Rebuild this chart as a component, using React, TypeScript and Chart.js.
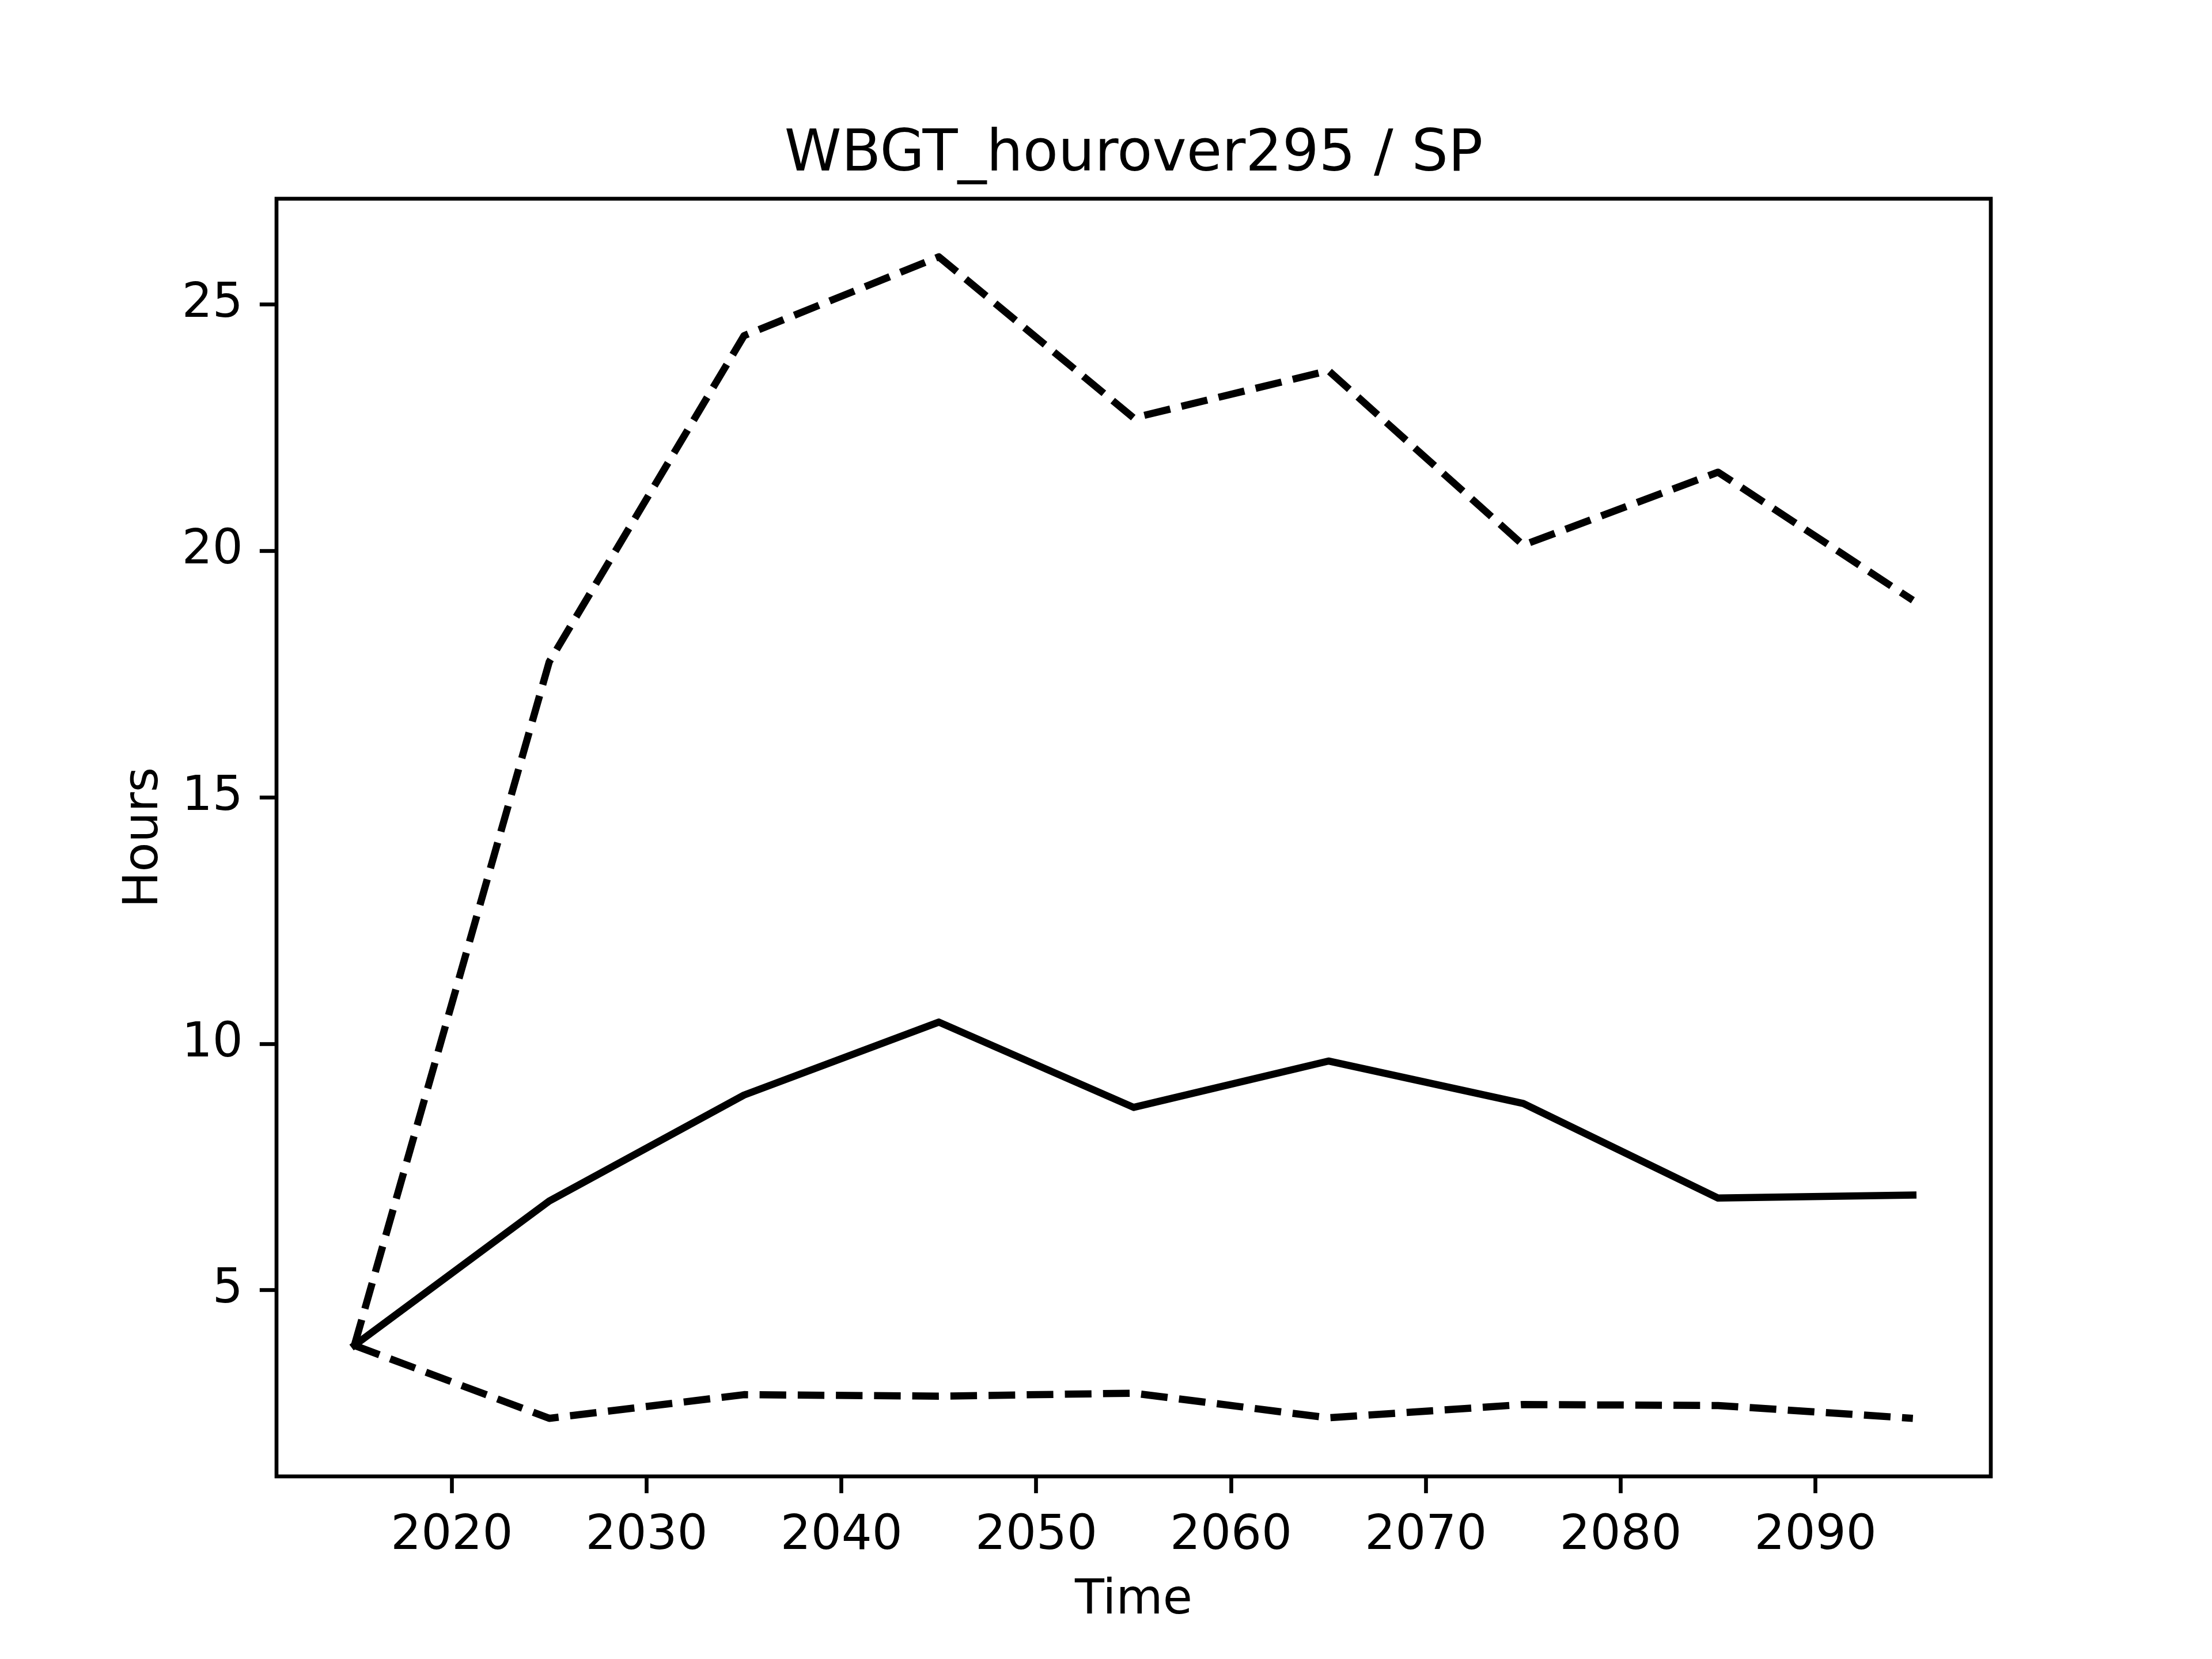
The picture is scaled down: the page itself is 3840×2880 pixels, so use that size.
import React, { useEffect, useRef } from "react";
import { Chart, registerables } from "chart.js";

Chart.register(...registerables);

const years = [2015, 2025, 2035, 2045, 2055, 2065, 2075, 2085, 2095];
const upperValues = [3.88, 17.75, 24.37, 25.97, 22.7, 23.66, 20.12, 21.6, 19.0];
const middleValues = [3.88, 6.81, 8.96, 10.44, 8.71, 9.65, 8.79, 6.87, 6.93];
const lowerValues = [3.88, 2.4, 2.88, 2.85, 2.91, 2.41, 2.68, 2.66, 2.4];
const xTickValues = [2020, 2030, 2040, 2050, 2060, 2070, 2080, 2090];
const yTickValues = [5, 10, 15, 20, 25];
const titleText = "WBGT_hourover295 / SP";
const xLabel = "Time";
const yLabel = "Hours";

const FONT = "DejaVu Sans";
const W = 3840;
const H = 2880;
const PT = 600 / 72;

export default function App() {
  const ref = useRef<HTMLCanvasElement | null>(null);

  useEffect(() => {
    document.body.style.margin = "0";
    const canvas = ref.current;
    if (!canvas) return;

    const all = [...upperValues, ...middleValues, ...lowerValues];
    const dMin = Math.min(...all);
    const dMax = Math.max(...all);
    const yPad = (dMax - dMin) * 0.05;
    const xPad = (years[years.length - 1] - years[0]) * 0.05;

    const frame = {
      id: "frame",
      afterLayout(chart: any) {
        const t = chart.titleBlock;
        if (t) {
          t.left = chart.chartArea.left;
          t.right = chart.chartArea.right;
          t.width = t.right - t.left;
        }
      },
      afterDraw(chart: any) {
        const { ctx, chartArea } = chart;
        ctx.save();
        ctx.strokeStyle = "#000";
        ctx.lineWidth = 0.8 * PT;
        ctx.lineJoin = "miter";
        ctx.strokeRect(
          chartArea.left,
          chartArea.top,
          chartArea.right - chartArea.left,
          chartArea.bottom - chartArea.top
        );
        ctx.restore();
      },
    };

    const lw = 1.5 * PT;
    const dash = [3.7 * lw, 1.6 * lw];
    const mk = (label: string, data: number[], dashed: boolean) => ({
      label,
      data: years.map((x, i) => ({ x, y: data[i] })),
      borderColor: "#000",
      backgroundColor: "#000",
      borderWidth: lw,
      borderDash: dashed ? dash : [],
      borderCapStyle: dashed ? "butt" : "square",
      borderJoinStyle: "round",
      pointRadius: 0,
      tension: 0,
      fill: false,
    });

    const tickFont = { family: FONT, size: 10 * PT, lineHeight: 1 };
    const chart = new Chart(canvas, {
      type: "line",
      data: {
        datasets: [
          mk("upper", upperValues, true),
          mk("median", middleValues, false),
          mk("lower", lowerValues, true),
        ] as any,
      },
      plugins: [frame],
      options: {
        animation: false,
        responsive: false,
        devicePixelRatio: 1,
        events: [],
        layout: { padding: { left: 0, right: 384, top: 0, bottom: 0 } },
        plugins: {
          legend: { display: false },
          tooltip: { enabled: false },
          title: {
            display: true,
            text: titleText,
            color: "#000",
            font: { family: FONT, size: 12 * PT, weight: "normal", lineHeight: 1 },
            padding: { top: 220, bottom: 25 },
          },
        },
        scales: {
          x: {
            type: "linear",
            min: years[0] - xPad,
            max: years[years.length - 1] + xPad,
            afterBuildTicks: (s: any) => {
              s.ticks = xTickValues.map((v) => ({ value: v }));
            },
            afterFit: (s: any) => {
              s.height = H - 2563;
            },
            ticks: {
              color: "#000",
              font: tickFont,
              padding: 3.5 * PT + 4,
              maxRotation: 0,
              autoSkip: false,
              callback: (v: any) => String(v),
            },
            grid: {
              display: true,
              drawOnChartArea: false,
              drawTicks: true,
              tickLength: 3.5 * PT,
              tickWidth: 0.8 * PT,
              tickColor: "#000",
            },
            border: { display: false },
            title: {
              display: true,
              text: xLabel,
              color: "#000",
              font: tickFont,
              padding: { top: 0, bottom: 59 },
            },
          },
          y: {
            type: "linear",
            min: dMin - yPad,
            max: dMax + yPad,
            afterBuildTicks: (s: any) => {
              s.ticks = yTickValues.map((v) => ({ value: v }));
            },
            afterFit: (s: any) => {
              s.width = 480;
            },
            ticks: {
              color: "#000",
              font: tickFont,
              padding: 3.5 * PT,
              autoSkip: false,
              callback: (v: any) => String(v),
            },
            grid: {
              display: true,
              drawOnChartArea: false,
              drawTicks: true,
              tickLength: 3.5 * PT,
              tickWidth: 0.8 * PT,
              tickColor: "#000",
            },
            border: { display: false },
            title: {
              display: true,
              text: yLabel,
              color: "#000",
              font: tickFont,
              padding: { top: 210, bottom: 0 },
            },
          },
        },
      } as any,
    });

    return () => {
      chart.destroy();
    };
  }, []);

  return (
    <canvas
      ref={ref}
      width={W}
      height={H}
      style={{ position: "absolute", left: 0, top: 0, width: W, height: H, display: "block", background: "#fff" }}
    />
  );
}
